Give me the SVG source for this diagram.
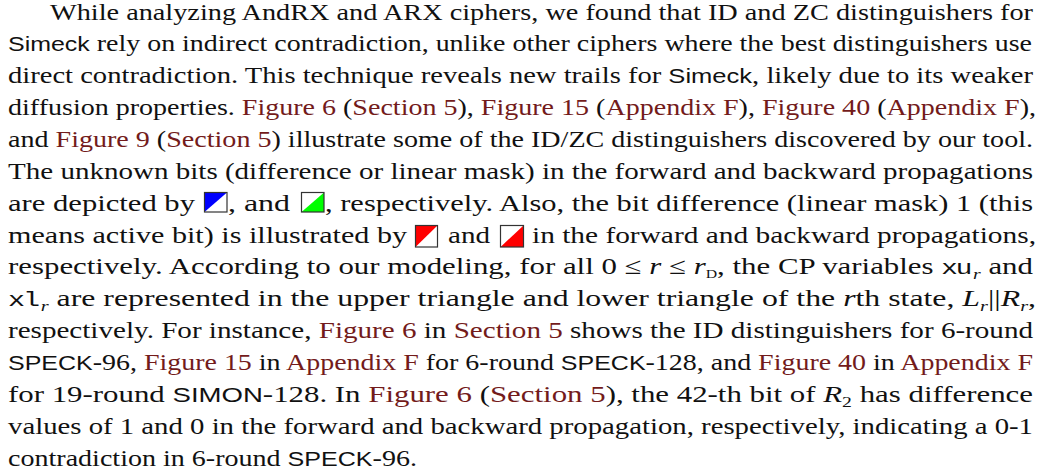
<svg xmlns="http://www.w3.org/2000/svg" width="1048" height="476" viewBox="0 0 1048 476">
  <style>
    .t { font-family: "Liberation Serif", "Times New Roman", serif; font-size: 23.5px; fill: #111; }
    .s { font-family: "Liberation Sans", Arial, sans-serif; font-size: 21px; }
    .lnk { fill: #731b1b; }
    .m { font-style: italic; }
    .tt { font-family: "Liberation Mono", "Courier New", monospace; font-size: 21px; letter-spacing: -1.5px; }
    .sub { font-size: 15px; }
    .sc { font-size: 12px; }
    .box { fill: #fff; }
    .edge { fill: none; stroke: #333; stroke-width: 1.2; }
  </style>
  <rect width="1048" height="476" fill="#fff"/>

  <g id="paragraph">
    <text class="t" x="50" y="19.5" textLength="983" lengthAdjust="spacingAndGlyphs">While analyzing AndRX and ARX ciphers, we found that ID and ZC distinguishers for</text>
    <text class="t" x="8" y="51.4" textLength="1024" lengthAdjust="spacingAndGlyphs"><tspan class="s">Simeck</tspan> rely on indirect contradiction, unlike other ciphers where the best distinguishers use</text>
    <text class="t" x="8" y="83.2" textLength="1025" lengthAdjust="spacingAndGlyphs">direct contradiction. This technique reveals new trails for <tspan class="s">Simeck</tspan>, likely due to its weaker</text>
    <text class="t" x="8" y="115.1" textLength="1028" lengthAdjust="spacingAndGlyphs">diffusion properties. <tspan class="lnk">Figure 6</tspan> (<tspan class="lnk">Section 5</tspan>), <tspan class="lnk">Figure 15</tspan> (<tspan class="lnk">Appendix F</tspan>), <tspan class="lnk">Figure 40</tspan> (<tspan class="lnk">Appendix F</tspan>),</text>
    <text class="t" x="8" y="146.9" textLength="1025" lengthAdjust="spacingAndGlyphs">and <tspan class="lnk">Figure 9</tspan> (<tspan class="lnk">Section 5</tspan>) illustrate some of the ID/ZC distinguishers discovered by our tool.</text>
    <text class="t" x="8" y="178.8" textLength="1025" lengthAdjust="spacingAndGlyphs">The unknown bits (difference or linear mask) in the forward and backward propagations</text>

    <text class="t" x="8" y="210.7" textLength="187" lengthAdjust="spacingAndGlyphs">are depicted by</text>
    <text class="t" x="228" y="210.7" textLength="62" lengthAdjust="spacingAndGlyphs">, and</text>
    <text class="t" x="325" y="210.7" textLength="708" lengthAdjust="spacingAndGlyphs">, respectively. Also, the bit difference (linear mask) 1 (this</text>

    <text class="t" x="8" y="242.5" textLength="399" lengthAdjust="spacingAndGlyphs">means active bit) is illustrated by</text>
    <text class="t" x="448" y="242.5" textLength="42" lengthAdjust="spacingAndGlyphs">and</text>
    <text class="t" x="532" y="242.5" textLength="504" lengthAdjust="spacingAndGlyphs">in the forward and backward propagations,</text>

    <text class="t" x="8" y="274.4" textLength="1025" lengthAdjust="spacingAndGlyphs">respectively. According to our modeling, for all 0 ≤ <tspan class="m">r</tspan> ≤ <tspan class="m">r</tspan><tspan class="sc" dy="4">D</tspan><tspan dy="-4">, the CP variables </tspan><tspan class="tt">xu</tspan><tspan class="sub m" dx="2" dy="5">r</tspan><tspan dy="-5"> and</tspan></text>
    <text class="t" x="8" y="306.2" textLength="1028" lengthAdjust="spacingAndGlyphs"><tspan class="tt">xl</tspan><tspan class="sub m" dx="2" dy="5">r</tspan><tspan dy="-5"> are represented in the upper triangle and lower triangle of the </tspan><tspan class="m">r</tspan>th state, <tspan class="m">L</tspan><tspan class="sub m" dy="5">r</tspan><tspan dy="-5">||</tspan><tspan class="m">R</tspan><tspan class="sub m" dy="5">r</tspan><tspan dy="-5">,</tspan></text>
    <text class="t" x="8" y="338.1" textLength="1025" lengthAdjust="spacingAndGlyphs">respectively. For instance, <tspan class="lnk">Figure 6</tspan> in <tspan class="lnk">Section 5</tspan> shows the ID distinguishers for 6-round</text>
    <text class="t" x="8" y="370" textLength="1025" lengthAdjust="spacingAndGlyphs"><tspan class="s">SPECK</tspan>-96, <tspan class="lnk">Figure 15</tspan> in <tspan class="lnk">Appendix F</tspan> for 6-round <tspan class="s">SPECK</tspan>-128, and <tspan class="lnk">Figure 40</tspan> in <tspan class="lnk">Appendix F</tspan></text>
    <text class="t" x="8" y="401.8" textLength="1025" lengthAdjust="spacingAndGlyphs">for 19-round <tspan class="s">SIMON</tspan>-128. In <tspan class="lnk">Figure 6</tspan> (<tspan class="lnk">Section 5</tspan>), the 42-th bit of <tspan class="m">R</tspan><tspan class="sub" dy="5">2</tspan><tspan dy="-5"> has difference</tspan></text>
    <text class="t" x="8" y="433.7" textLength="1025" lengthAdjust="spacingAndGlyphs">values of 1 and 0 in the forward and backward propagation, respectively, indicating a 0-1</text>
    <text class="t" x="8" y="465.5" textLength="409" lengthAdjust="spacingAndGlyphs">contradiction in 6-round <tspan class="s">SPECK</tspan>-96.</text>
  </g>

  <!-- legend swatches: forward fills the upper-left triangle, backward the lower-right -->
  <g id="swatch-unknown-forward">
    <rect class="box" x="204.5" y="192.5" width="22.5" height="19.5"/>
    <polygon points="204.5,192.5 227,192.5 204.5,212" fill="#0000ff"/>
    <rect class="edge" x="204.5" y="192.5" width="22.5" height="19.5"/>
  </g>
  <g id="swatch-unknown-backward">
    <rect class="box" x="301.5" y="192.5" width="22.5" height="19.5"/>
    <polygon points="324,192.5 324,212 301.5,212" fill="#00ff00"/>
    <rect class="edge" x="301.5" y="192.5" width="22.5" height="19.5"/>
  </g>
  <g id="swatch-active-forward">
    <rect class="box" x="415.5" y="225.5" width="22" height="21.5"/>
    <polygon points="415.5,225.5 437.5,225.5 415.5,247" fill="#ff0000"/>
    <rect class="edge" x="415.5" y="225.5" width="22" height="21.5"/>
  </g>
  <g id="swatch-active-backward">
    <rect class="box" x="500.5" y="225.5" width="23" height="21.5"/>
    <polygon points="523.5,225.5 523.5,247 500.5,247" fill="#ff0000"/>
    <rect class="edge" x="500.5" y="225.5" width="23" height="21.5"/>
  </g>
</svg>
